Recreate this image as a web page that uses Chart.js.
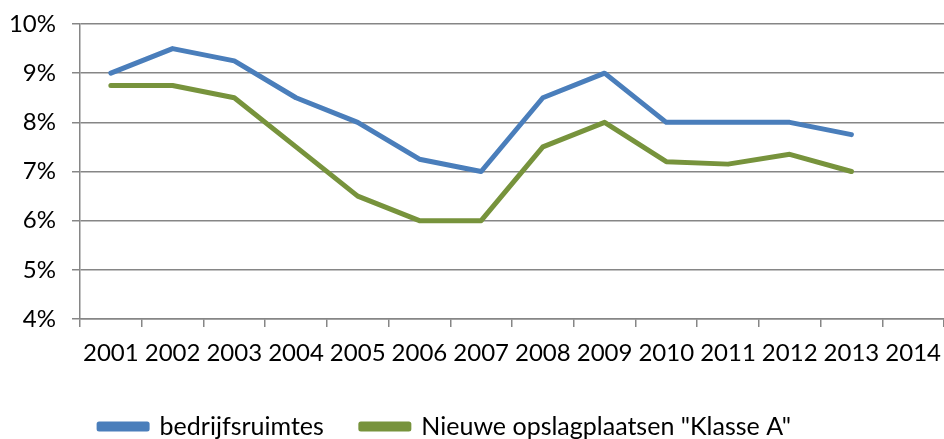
<!DOCTYPE html>
<html><head><meta charset="utf-8">
<script src="https://cdn.jsdelivr.net/npm/chart.js@4/dist/chart.umd.min.js"></script>
<style>html,body{margin:0;padding:0;background:#fff;overflow:hidden}#w{width:944px;height:439px}</style>
</head><body><div id="w"><canvas id="c"></canvas></div>
<script>
const years = ["2001","2002","2003","2004","2005","2006","2007","2008","2009","2010","2011","2012","2013","2014"];
const bedrijfsruimtes = [9.0, 9.5, 9.25, 8.5, 8.0, 7.25, 7.0, 8.5, 9.0, 8.0, 8.0, 8.0, 7.75, null];
const klasseA = [8.75, 8.75, 8.5, 7.5, 6.5, 6.0, 6.0, 7.5, 8.0, 7.2, 7.15, 7.35, 7.0, null];
const seriesNames = ["bedrijfsruimtes", "Nieuwe opslagplaatsen \"Klasse A\""];
const yTicks = [4,5,6,7,8,9,10];

const fam = "Lato, 'Open Sans', sans-serif";
const tickFont = {family: fam, size: 24};
const legendFont = {family: fam, size: 25};

const legendShift = {
  id: 'legendShift',
  afterLayout(chart) {
    const lg = chart.legend;
    if (!lg) return;
    const dx = -27, dy = 8;
    lg.left += dx; lg.right += dx; lg.top += dy; lg.bottom += dy;
  }
};

new Chart(document.getElementById('c'), {
  type: 'line',
  data: {
    labels: years,
    datasets: [
      {label: seriesNames[0], data: bedrijfsruimtes, borderColor: '#4A7EBB', backgroundColor: '#4A7EBB', borderWidth: 5, pointRadius: 0, borderCapStyle: 'round', borderJoinStyle: 'round', tension: 0},
      {label: seriesNames[1], data: klasseA, borderColor: '#77933C', backgroundColor: '#77933C', borderWidth: 5, pointRadius: 0, borderCapStyle: 'round', borderJoinStyle: 'round', tension: 0}
    ]
  },
  plugins: [legendShift],
  options: {
    responsive: true, maintainAspectRatio: false, animation: false,
    layout: {autoPadding: false, padding: {top: 24, right: 0, left: 0, bottom: -2}},
    plugins: {
      tooltip: {enabled: false},
      legend: {
        position: 'bottom',
        labels: {font: legendFont, color: '#000', boxWidth: 48, boxHeight: 5, padding: 37},
      }
    },
    scales: {
      x: {
        offset: true,
        afterFit: (ax) => { ax.height = 50; ax.paddingLeft = 0; ax.paddingRight = 0; },
        grid: {offset: true, drawOnChartArea: false, color: '#868686', tickLength: 8, lineWidth: 1.5},
        border: {color: '#868686', width: 1.5},
        ticks: {font: tickFont, color: '#000', padding: 12, maxRotation: 0, autoSkip: false}
      },
      y: {
        min: 4, max: 10,
        afterFit: (ax) => { ax.width = 80; ax.paddingTop = 0; ax.paddingBottom = 0; },
        afterBuildTicks: (ax) => { ax.ticks = yTicks.map(v => ({value: v})); },
        grid: {color: '#868686', tickLength: 8, lineWidth: 1.5},
        border: {color: '#868686', width: 1.5},
        ticks: {font: tickFont, color: '#000', padding: 16, callback: v => v + '%'}
      }
    }
  }
});
</script></body></html>
